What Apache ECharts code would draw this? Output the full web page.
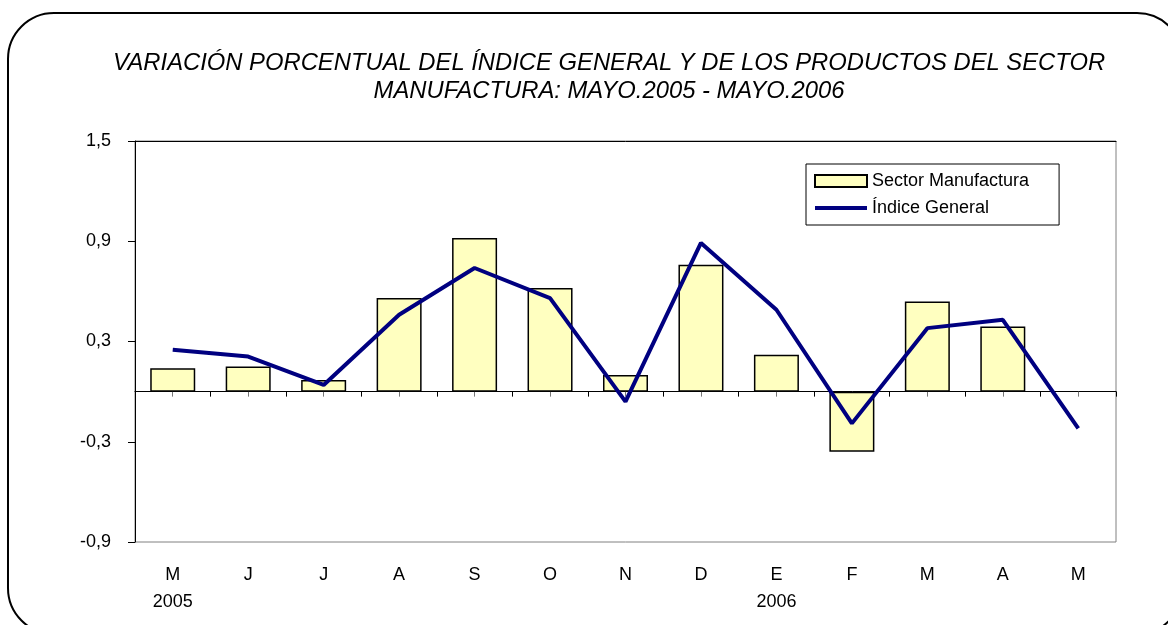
<!DOCTYPE html>
<html>
<head>
<meta charset="utf-8">
<script src="https://cdn.jsdelivr.net/npm/echarts@6/dist/echarts.min.js"></script>
<style>
  html, body { margin: 0; padding: 0; background: #fff; }
  #chart { width: 1168px; height: 625px; }
</style>
</head>
<body>
<div id="chart"></div>
<script>
// ======================
// DATOS
// ======================
const months = ["M", "J", "J", "A", "S", "O", "N", "D", "E", "F", "M", "A", "M"];
const years = ["2005", "", "", "", "", "", "", "", "2006", "", "", "", ""];
const sectorManufactura = [0.14, 0.15, 0.07, 0.56, 0.92, 0.62, 0.10, 0.76, 0.22, -0.36, 0.54, 0.39, null];
const indiceGeneral = [0.25, 0.21, 0.04, 0.46, 0.74, 0.56, -0.06, 0.89, 0.49, -0.19, 0.38, 0.43, -0.22];
const yTicks = [-0.9, -0.3, 0.3, 0.9, 1.5];

const FONT = "Liberation Sans, Arial, sans-serif";
const NAVY = "#000080";

const chart = echarts.init(document.getElementById("chart"));

chart.setOption({
    animation: false,
    backgroundColor: "#fff",
    textStyle: { fontFamily: FONT, color: "#000" },
    title: {
        text: "VARIACIÓN PORCENTUAL DEL ÍNDICE GENERAL Y DE LOS PRODUCTOS DEL SECTOR\nMANUFACTURA: MAYO.2005 - MAYO.2006",
        left: 604,
        top: 44,
        textAlign: "center",
        textStyle: {
            fontFamily: FONT,
            fontStyle: "italic",
            fontWeight: "normal",
            fontSize: 23.8,
            lineHeight: 28,
            color: "#000"
        }
    },
    // marco redondeado
    graphic: [{
        type: "rect",
        shape: { x: 8, y: 13, width: 1175, height: 621, r: 46 },
        style: { fill: "none", stroke: "#000", lineWidth: 2 },
        silent: true
    }],
    legend: {
        orient: "vertical",
        left: 806,
        top: 164,
        padding: [8, 30, 8, 7],
        itemGap: 9,
        itemWidth: 52,
        itemHeight: 12,
        borderColor: "#000",
        borderWidth: 1,
        textStyle: { fontFamily: FONT, fontSize: 18, color: "#000" },
        data: [
            { name: "Sector Manufactura", icon: "rect" },
            { name: "Índice General", itemStyle: { opacity: 0 }, lineStyle: { width: 4, color: NAVY } }
        ]
    },
    grid: {
        left: 135,
        top: 141,
        right: 52,
        bottom: 83,
        show: true,
        borderColor: "#808080",
        borderWidth: 1
    },
    xAxis: [
        {   // eje en cero con marcas entre categorías
            type: "category",
            data: months,
            position: "bottom",
            axisLine: { onZero: true, onZeroAxisIndex: 0, lineStyle: { color: "#000", width: 1 } },
            axisTick: { show: true, length: 5, lineStyle: { color: "#000" } },
            axisLabel: { show: false }
        },
        {   // etiquetas abajo
            type: "category",
            data: months,
            position: "bottom",
            axisLine: { show: false, onZero: false },
            axisTick: { show: false },
            axisLabel: {
                interval: 0,
                margin: 20,
                fontFamily: FONT,
                fontSize: 18,
                lineHeight: 27,
                color: "#000",
                formatter: (v, i) => years[i] ? v + "\n" + years[i] : v
            }
        },
        {   // borde superior
            type: "category",
            data: months,
            position: "top",
            axisLine: { show: true, onZero: false, lineStyle: { color: "#000", width: 1 } },
            axisTick: { show: false },
            axisLabel: { show: false }
        },
        {   // marcas centradas
            type: "category",
            data: months,
            position: "bottom",
            axisLine: { show: false, onZero: true, onZeroAxisIndex: 0 },
            axisTick: { show: true, alignWithLabel: true, length: 5, lineStyle: { color: "#777" } },
            axisLabel: { show: false }
        }
    ],
    yAxis: {
        type: "value",
        min: -0.9,
        max: 1.5,
        splitLine: { show: false },
        axisLine: { show: true, lineStyle: { color: "#000", width: 1 } },
        axisTick: { show: true, length: 7, customValues: yTicks, lineStyle: { color: "#000" } },
        axisLabel: {
            customValues: yTicks,
            margin: 24,
            fontFamily: FONT,
            fontSize: 18,
            color: "#000",
            formatter: v => v.toFixed(1).replace(".", ",")
        }
    },
    series: [
        {
            name: "Sector Manufactura",
            type: "bar",
            data: sectorManufactura,
            barWidth: 45,
            itemStyle: { color: "#FFFFC0", borderColor: "#000", borderWidth: 1.5 }
        },
        {
            name: "Índice General",
            type: "line",
            data: indiceGeneral,
            symbol: "none",
            lineStyle: { color: NAVY, width: 4 },
            itemStyle: { color: NAVY }
        }
    ]
});
</script>
</body>
</html>
